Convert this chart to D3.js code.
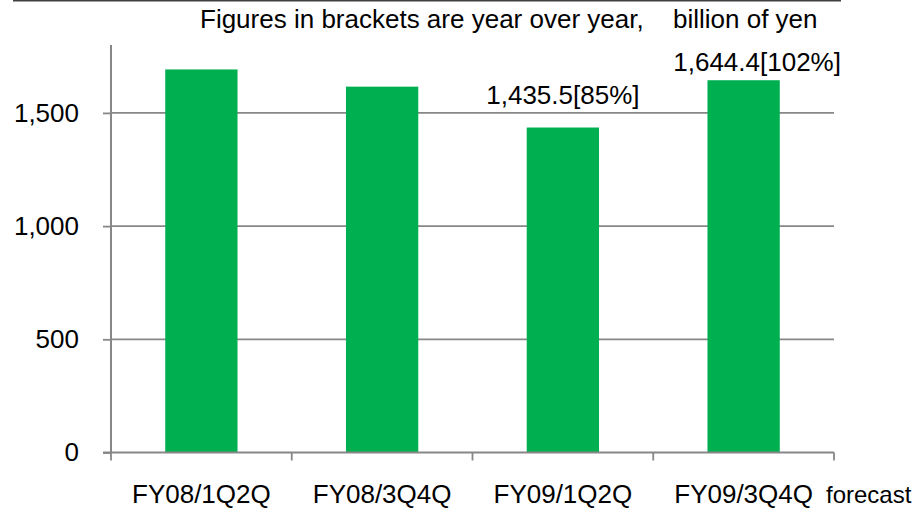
<!DOCTYPE html>
<html>
<head>
<meta charset="utf-8">
<script src="https://cdn.jsdelivr.net/npm/d3@7"></script>
<style>
  html, body { margin: 0; padding: 0; background: #ffffff; }
  svg { display: block; }
  text { font-family: Arial, "Liberation Sans", sans-serif; fill: #000; }
</style>
</head>
<body>
<svg id="chart" width="913" height="508"></svg>
<script>
// ---- data ----
const categories = ["FY08/1Q2Q", "FY08/3Q4Q", "FY09/1Q2Q", "FY09/3Q4Q"];
const values = [1692, 1616, 1435.5, 1644.4];
const yoyPercent = [null, null, 85, 102];
const yTicks = [0, 500, 1000, 1500];
const titleText = "Figures in brackets are year over year,";
const unitText = "billion of yen";
const forecastText = "forecast";

// ---- layout / style (not data) ----
const W = 913, H = 508;
const plot = { left: 111, right: 834, top: 45, bottom: 452.5 };
const barColor = "#00B050";
const axisColor = "#878787";
const labelOffsets = [null, null, { dx: 0, dy: -24 }, { dx: 13.5, dy: -9.5 }];

const svg = d3.select("#chart");

const x = d3.scaleBand()
  .domain(categories)
  .range([plot.left, plot.right])
  .paddingInner(0.6)
  .paddingOuter(0.3);

const y = d3.scaleLinear()
  .domain([0, 1800])
  .range([plot.bottom, plot.top]);

// top rule line
svg.append("line")
  .attr("x1", 13).attr("x2", 841)
  .attr("y1", 0.75).attr("y2", 0.75)
  .attr("stroke", "#404040").attr("stroke-width", 1.5);

// title texts
svg.append("text")
  .attr("x", 200).attr("y", 28)
  .style("font-size", "26px")
  .text(titleText);
svg.append("text")
  .attr("x", 673).attr("y", 28)
  .style("font-size", "26px")
  .text(unitText);

// gridlines
svg.append("g")
  .selectAll("line")
  .data(yTicks.filter(d => d > 0))
  .join("line")
  .attr("x1", plot.left).attr("x2", plot.right)
  .attr("y1", d => y(d)).attr("y2", d => y(d))
  .attr("stroke", axisColor).attr("stroke-width", 1.8);

// bars
svg.append("g")
  .selectAll("rect")
  .data(values)
  .join("rect")
  .attr("x", (d, i) => x(categories[i]))
  .attr("width", x.bandwidth())
  .attr("y", d => y(d))
  .attr("height", d => y(0) - y(d))
  .attr("fill", barColor);

// y axis
const yAxis = d3.axisLeft(y)
  .tickValues(yTicks)
  .tickFormat(d3.format(","))
  .tickSize(8)
  .tickPadding(24);
const gy = svg.append("g")
  .attr("transform", `translate(${plot.left},0)`)
  .call(yAxis);
gy.select(".domain").remove();
gy.append("line")
  .attr("x1", 0).attr("x2", 0)
  .attr("y1", plot.top).attr("y2", plot.bottom)
  .attr("stroke", axisColor).attr("stroke-width", 2);
gy.selectAll(".tick line").attr("stroke", axisColor).attr("stroke-width", 1.8);
gy.selectAll(".tick text")
  .style("font-size", "26px")
  .style("font-family", "Arial, 'Liberation Sans', sans-serif")
  .attr("fill", "#000");

// x axis
const xTickPositions = d3.range(categories.length + 1).map(i => plot.left + i * x.step());
const gx = svg.append("g")
  .attr("transform", `translate(0,${plot.bottom})`);
gx.append("line")
  .attr("x1", plot.left - 8).attr("x2", plot.right)
  .attr("y1", 0).attr("y2", 0)
  .attr("stroke", axisColor).attr("stroke-width", 1.8);
gx.selectAll("line.tk")
  .data(xTickPositions)
  .join("line")
  .attr("class", "tk")
  .attr("x1", d => d).attr("x2", d => d)
  .attr("y1", 0).attr("y2", 8)
  .attr("stroke", axisColor).attr("stroke-width", 1.8);
gx.selectAll("text.cat")
  .data(categories)
  .join("text")
  .attr("class", "cat")
  .attr("x", d => x(d) + x.bandwidth() / 2)
  .attr("y", 8 + 24)
  .attr("dy", "0.71em")
  .attr("text-anchor", "middle")
  .style("font-size", "26px")
  .text(d => d);

// forecast note
svg.append("text")
  .attr("x", plot.right - 8)
  .attr("y", 503)
  .style("font-size", "24px")
  .text(forecastText);

// value labels
const fmt = d3.format(",.1f");
svg.append("g")
  .selectAll("text")
  .data(values.map((v, i) => ({ v, i })).filter(d => yoyPercent[d.i] !== null))
  .join("text")
  .attr("x", d => x(categories[d.i]) + x.bandwidth() / 2 + labelOffsets[d.i].dx)
  .attr("y", d => y(d.v) + labelOffsets[d.i].dy)
  .attr("text-anchor", "middle")
  .style("font-size", "26px")
  .text(d => `${fmt(d.v)}[${yoyPercent[d.i]}%]`);
</script>
</body>
</html>
